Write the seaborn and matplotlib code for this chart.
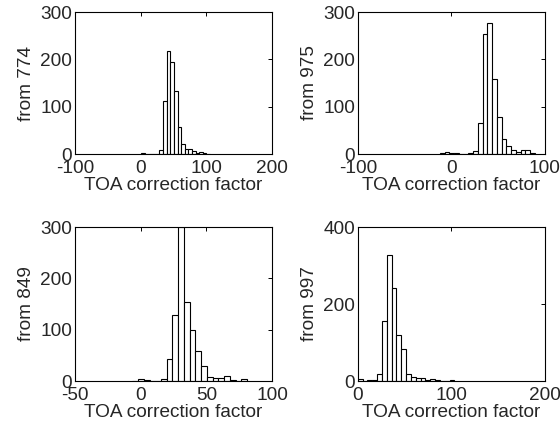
import numpy as np
import pandas as pd
import seaborn as sns
import matplotlib.pyplot as plt

# =========================
# TOA correction factor histograms
# =========================

labels = ["from 774", "from 975", "from 849", "from 997"]

start_774, width_774 = 1.0, 5.5
counts_774 = [2, 1, 1, 0, 0, 8, 111, 217, 195, 134, 58, 22, 11, 11, 6, 2, 4, 2, 1]

start_975, width_975 = -12.3, 5.08
counts_975 = [2, 4, 2, 2, 1, 1, 2, 6, 66, 253, 277, 158, 78, 32, 16, 8, 5, 8, 8, 2]

start_849, width_849 = -6.36, 4.36
counts_849 = [1, 3, 2, 0, 0, 4, 42, 128, 300, 153, 99, 58, 30, 8, 6, 6, 9, 2, 0, 4]

start_997, width_997 = 0.0, 5.16
counts_997 = [4, 1, 2, 2, 19, 157, 327, 242, 119, 84, 17, 11, 8, 8, 3, 4, 2, 1, 0, 2]

xlims = [(-100, 200), (-100, 100), (-50, 100), (0, 200)]
xticks = [[-100, 0, 100, 200], [-100, 0, 100], [-50, 0, 50, 100], [0, 100, 200]]
ylims = [(0, 300), (0, 300), (0, 300), (0, 400)]
yticks = [[0, 100, 200, 300], [0, 100, 200, 300], [0, 100, 200, 300], [0, 200, 400]]

sns.set_style("white")
plt.rcParams["font.family"] = ["Liberation Sans", "DejaVu Sans"]
plt.rcParams["font.size"] = 13.7
plt.rcParams["axes.unicode_minus"] = False

fig = plt.figure(figsize=(5.6, 4.32), dpi=100)
positions = [
    [0.134, 0.6435, 0.352, 0.3287],
    [0.639, 0.6435, 0.334, 0.3287],
    [0.134, 0.118, 0.352, 0.3565],
    [0.639, 0.118, 0.334, 0.3565],
]
series = [
    (start_774, width_774, counts_774),
    (start_975, width_975, counts_975),
    (start_849, width_849, counts_849),
    (start_997, width_997, counts_997),
]

for i, (start, width, counts) in enumerate(series):
    ax = fig.add_axes(positions[i])
    edges = list(start + width * np.arange(len(counts) + 1))
    centers = [(a + b) / 2 for a, b in zip(edges[:-1], edges[1:])]
    df = pd.DataFrame({"x": centers, "n": counts})
    sns.histplot(data=df, x="x", weights="n", bins=edges, ax=ax,
                 color="white", edgecolor="black", linewidth=0.8, alpha=1)
    ax.set(xlim=xlims[i], ylim=ylims[i], xticks=xticks[i], yticks=yticks[i])
    ax.set_xlabel("TOA correction factor", fontsize=13.7, labelpad=0)
    ax.set_ylabel(labels[i], fontsize=13.7, labelpad=4)
    ax.tick_params(direction="in", length=3, width=0.7, top=True, right=True,
                   labelsize=13.7, color="black")
    ax.tick_params(axis="x", pad=4.5)
    ax.tick_params(axis="y", pad=2)
    for s in ax.spines.values():
        s.set_linewidth(0.8)
        s.set_color("black")

fig.savefig("out.png", dpi=100)
plt.close(fig)
